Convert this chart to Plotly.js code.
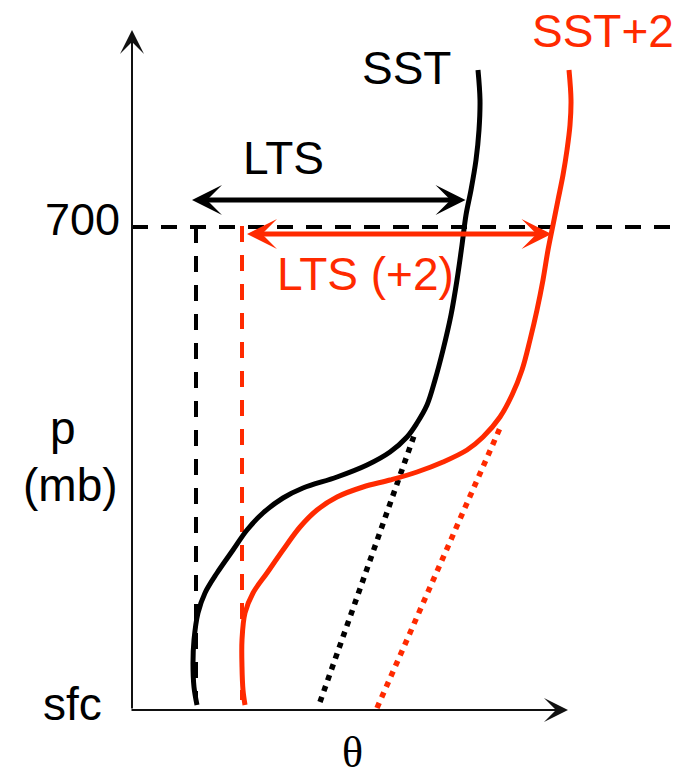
<!DOCTYPE html>
<html>
<head>
<meta charset="utf-8">
<script src="https://cdn.plot.ly/plotly-3.0.1.min.js"></script>
<style>html,body{margin:0;padding:0;background:#fff;}#chart{width:681px;height:780px;}</style>
</head>
<body>
<div id="chart"></div>
<script>
// Schematic diagram values, in diagram units (theta to the right, height/pressure downwards)
var sstTheta = [478,480,479,476,471,466,462,457,451,443,435,427,417,407,390,367,337,303,283,263,247,233,217,205,198,194,193,194,197];
var sstP     = [70,100,130,160,190,215,245,280,315,350,380,405,423,437,452,465,477,488,498,513,530,550,573,593,613,640,663,687,705];
var sst2Theta = [569,571,570,567,563,558,553,548,543,537,530,522,512,500,483,467,443,417,390,363,337,317,300,283,267,253,245,242,242,243,245];
var sst2P     = [70,100,125,150,175,200,225,250,280,310,340,370,395,417,437,450,462,472,480,487,497,510,527,550,573,593,613,640,667,690,705];
var dryTheta  = [320,415];
var dryP      = [702,433];
var dry2Theta = [377,500];
var dry2P     = [708,428];
var level700Theta = [132,673];
var level700P     = [227,227];
var surfTheta  = [196,196];
var surfP      = [227,700];
var surf2Theta = [242,242];
var surf2P     = [226,700];
var ltsTheta   = [192,467];
var ltsP       = 200;
var lts2Theta  = [247,553];
var lts2P      = 234;
var axisOrigin = [132,710];
var axisTop    = 30;
var axisRight  = 568;

var RED = '#ff2a00';
var SANS = 'Liberation Sans, Arial, Helvetica, sans-serif';

var traces = [
  {x: level700Theta, y: level700P, mode:'lines', line:{color:'#000', width:4, dash:'16px,13px'}},
  {x: surfTheta, y: surfP, mode:'lines', line:{color:'#000', width:4, dash:'16px,13px'}},
  {x: surf2Theta, y: surf2P, mode:'lines', line:{color:RED, width:4, dash:'16px,13px'}},
  {x: dryTheta, y: dryP, mode:'lines', line:{color:'#000', width:5.5, dash:'5.5px,6px'}},
  {x: dry2Theta, y: dry2P, mode:'lines', line:{color:RED, width:5.5, dash:'5.5px,6px'}},
  {x: sstTheta, y: sstP, mode:'lines', line:{color:'#000', width:5, shape:'spline', smoothing:1}},
  {x: sst2Theta, y: sst2P, mode:'lines', line:{color:RED, width:5, shape:'spline', smoothing:1}}
];

function arrow(x0, y0, x1, y1, color, w, size, both) {
  var a = {x:x1, y:y1, ax:x0, ay:y0, xref:'x', yref:'y', axref:'x', ayref:'y',
    text:'', showarrow:true, arrowhead:3, arrowsize:size, arrowwidth:w, arrowcolor:color,
    standoff:0, startstandoff:0};
  if (both) { a.arrowside = 'end+start'; a.startarrowhead = 3; a.startarrowsize = size; }
  return a;
}
function label(txt, x, y, color, size, fam, yanchor) {
  return {x:x, y:y, xref:'x', yref:'y', text:txt, showarrow:false,
    xanchor:'center', yanchor: yanchor || 'middle',
    font:{family: fam || SANS, size:size, color:color}};
}

var annotations = [
  arrow(axisOrigin[0], axisOrigin[1], axisOrigin[0], axisTop, '#111', 2, 2, false),
  arrow(axisOrigin[0]-2, axisOrigin[1], axisRight, axisOrigin[1], '#111', 2, 2, false),
  arrow(ltsTheta[1], ltsP, ltsTheta[0], ltsP, '#000', 5, 1, true),
  arrow(lts2Theta[1], lts2P, lts2Theta[0], lts2P, RED, 5, 1, true),
  label('SST', 406, 68, '#000', 46),
  label('SST+2', 603, 31, RED, 46),
  label('LTS', 283, 158, '#000', 46),
  label('LTS (+2)', 365, 274, RED, 46),
  label('700', 82, 219, '#000', 45),
  label('p', 63, 428, '#000', 46),
  label('(mb)', 70, 485, '#000', 46),
  label('sfc', 72, 704, '#000', 46),
  label('θ', 352, 779, '#000', 44, 'Liberation Serif, Times New Roman, serif', 'bottom')
];

var layout = {
  width:681, height:780,
  margin:{l:0, r:0, t:0, b:0, pad:0},
  paper_bgcolor:'#fff', plot_bgcolor:'#fff',
  showlegend:false,
  xaxis:{range:[0,681], visible:false, fixedrange:true},
  yaxis:{range:[780,0], visible:false, fixedrange:true},
  annotations: annotations
};

Plotly.newPlot('chart', traces, layout, {staticPlot:true, displayModeBar:false});
</script>
</body>
</html>
